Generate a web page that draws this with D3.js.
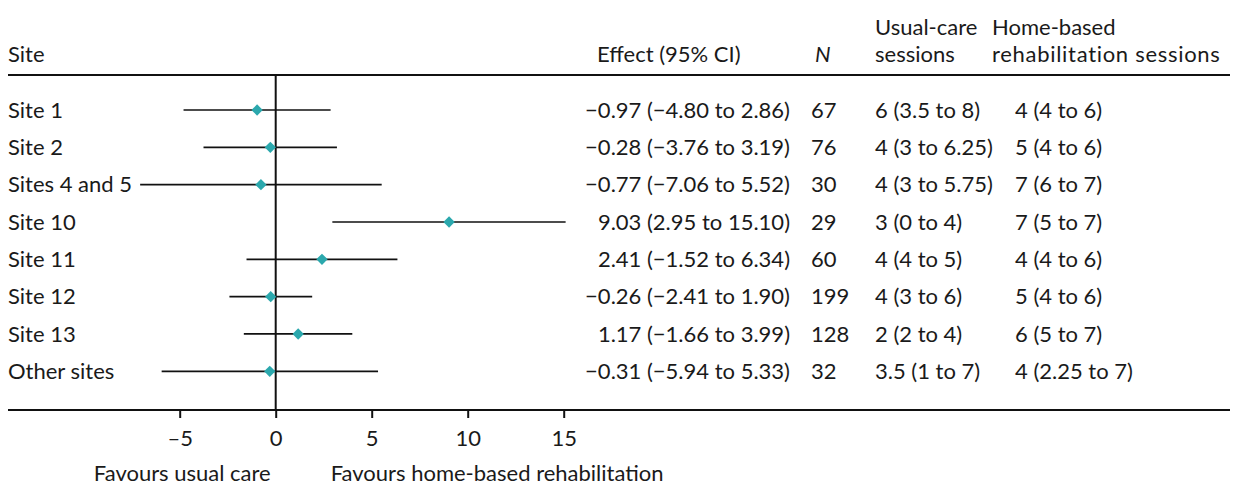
<!DOCTYPE html>
<html>
<head>
<meta charset="utf-8">
<script src="https://cdn.jsdelivr.net/npm/d3@7"></script>
<style>
  body { margin: 0; background: #fff; }
  text { font-family: Lato, "Open Sans", sans-serif; font-size: 22px; fill: #1a1a1a; }
</style>
</head>
<body>
<div id="plot-container"></div>
<script>
// Data
const sites = ["Site 1", "Site 2", "Sites 4 and 5", "Site 10", "Site 11", "Site 12", "Site 13", "Other sites"];
const effects = [-0.97, -0.28, -0.77, 9.03, 2.41, -0.26, 1.17, -0.31];
const lower = [-4.80, -3.76, -7.06, 2.95, -1.52, -2.41, -1.66, -5.94];
const upper = [2.86, 3.19, 5.52, 15.10, 6.34, 1.90, 3.99, 5.33];
const counts = [67, 76, 30, 29, 60, 199, 128, 32];
const usualSessions = ["6 (3.5 to 8)", "4 (3 to 6.25)", "4 (3 to 5.75)", "3 (0 to 4)", "4 (4 to 5)", "4 (3 to 6)", "2 (2 to 4)", "3.5 (1 to 7)"];
const homeSessions = ["4 (4 to 6)", "5 (4 to 6)", "7 (6 to 7)", "7 (5 to 7)", "4 (4 to 6)", "5 (4 to 6)", "6 (5 to 7)", "4 (2.25 to 7)"];
const ticks = [-5, 0, 5, 10, 15];

const width = 1235;
const height = 501;
const left = 8;
const right = 1230;
const headerLine = 75;
const axisLine = 410;

const fmt = v => d3.format(".2f")(v).replace("-", "\u2013");

// x scale for the effect
const x = d3.scaleLinear()
    .domain([0, 15])
    .range([275.7, 563.7]);

// row positions
const y = d3.scalePoint()
    .domain(sites)
    .range([110, 371.3]);

const svg = d3.select("#plot-container").append("svg")
    .attr("width", width)
    .attr("height", height);

// header
const head = svg.append("g");
head.append("text").attr("x", left).attr("y", 62).text("Site");
head.append("text").attr("x", 597).attr("y", 62).text("Effect (95% CI)");
head.append("text").attr("x", 815).attr("y", 62).style("font-style", "italic").text("N");
head.append("text").attr("x", 875).attr("y", 35).text("Usual-care");
head.append("text").attr("x", 875).attr("y", 62).text("sessions");
head.append("text").attr("x", 992).attr("y", 35).text("Home-based");
head.append("text").attr("x", 992).attr("y", 62).style("letter-spacing", "0.7px").text("rehabilitation sessions");

// horizontal rules
svg.append("line")
    .attr("x1", left).attr("x2", right)
    .attr("y1", headerLine).attr("y2", headerLine)
    .attr("stroke", "#111").attr("stroke-width", 2);

// x-axis at the bottom
const axis = svg.append("g")
    .attr("transform", `translate(0,${axisLine})`)
    .call(d3.axisBottom(x).tickValues(ticks).tickSize(8).tickFormat(d => String(d).replace("-", "\u2013")));
axis.select(".domain").remove();
axis.selectAll(".tick line").attr("stroke", "#111").attr("stroke-width", 2);
axis.selectAll(".tick text").attr("dy", null).attr("y", 36)
    .style("font-family", "Lato, sans-serif").style("font-size", "22px").attr("fill", "#1a1a1a");

svg.append("line")
    .attr("x1", left).attr("x2", right)
    .attr("y1", axisLine).attr("y2", axisLine)
    .attr("stroke", "#111").attr("stroke-width", 2);

// zero line
svg.append("line")
    .attr("x1", x(0)).attr("x2", x(0))
    .attr("y1", headerLine).attr("y2", axisLine)
    .attr("stroke", "#111").attr("stroke-width", 2);

// favours labels
svg.append("text").attr("x", x(0) - 5).attr("y", 481).attr("text-anchor", "end").text("Favours usual care");
svg.append("text").attr("x", x(0) + 55).attr("y", 481).text("Favours home-based rehabilitation");

// rows
const rows = svg.append("g").selectAll("g")
    .data(sites)
    .join("g")
    .attr("transform", d => `translate(0,${y(d)})`);

rows.append("text").attr("x", left).attr("dy", "0.35em").text(d => d);

rows.append("line")
    .attr("x1", (d, i) => x(lower[i]))
    .attr("x2", (d, i) => x(upper[i]))
    .attr("stroke", "#111").attr("stroke-width", 1.7);

rows.append("path")
    .attr("d", d3.symbol(d3.symbolSquare, 64))
    .attr("transform", (d, i) => `translate(${x(effects[i])},0) rotate(45)`)
    .attr("fill", "#2ba8ad");

rows.append("text").attr("x", 790).attr("dy", "0.35em").attr("text-anchor", "end")
    .text((d, i) => `${fmt(effects[i])} (${fmt(lower[i])} to ${fmt(upper[i])})`);
rows.append("text").attr("x", 811).attr("dy", "0.35em").text((d, i) => counts[i]);
rows.append("text").attr("x", 875).attr("dy", "0.35em").text((d, i) => usualSessions[i]);
rows.append("text").attr("x", 1015).attr("dy", "0.35em").text((d, i) => homeSessions[i]);
</script>
</body>
</html>
